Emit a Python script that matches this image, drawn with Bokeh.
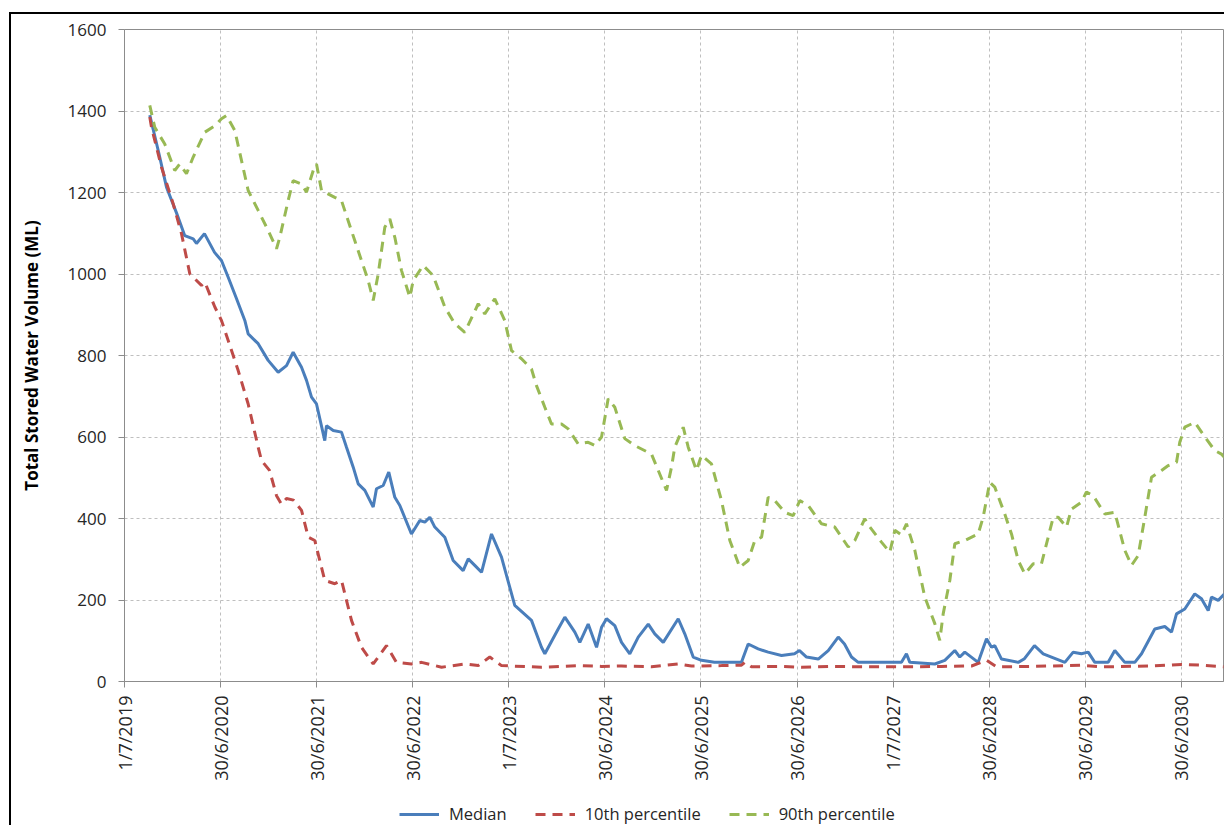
import datetime as dt
import math
from bokeh.plotting import figure
from bokeh.layouts import column
from bokeh.models import FixedTicker, SingleIntervalTicker, Range1d, Legend, LegendItem
from bokeh.embed import file_html
from bokeh.resources import INLINE

# ---------------- data (time as decimal year, volume in ML) ----------------
median_year = [2019.763, 2019.854, 2019.937, 2020.041, 2020.127, 2020.215, 2020.249, 2020.332, 2020.437, 2020.509,
               2020.579, 2020.665, 2020.752, 2020.787, 2020.891, 2020.995, 2021.099, 2021.186, 2021.255, 2021.342,
               2021.394, 2021.446, 2021.498, 2021.584, 2021.602, 2021.672, 2021.758, 2021.810, 2021.880, 2021.932,
               2022.001, 2022.088, 2022.122, 2022.192, 2022.250, 2022.313, 2022.365, 2022.486, 2022.573, 2022.625,
               2022.677, 2022.729, 2022.833, 2022.920, 2023.024, 2023.077, 2023.145, 2023.215, 2023.319, 2023.423,
               2023.561, 2023.735, 2023.839, 2023.874, 2024.013, 2024.082, 2024.186, 2024.238, 2024.325, 2024.412,
               2024.464, 2024.516, 2024.602, 2024.672, 2024.758, 2024.846, 2024.950, 2025.018, 2025.106, 2025.262,
               2025.330, 2025.418, 2025.504, 2025.639, 2025.920, 2025.990, 2026.094, 2026.198, 2026.337, 2026.472,
               2026.524, 2026.597, 2026.719, 2026.823, 2026.927, 2026.992, 2027.065, 2027.135, 2027.273, 2027.585,
               2027.637, 2027.672, 2027.932, 2028.036, 2028.140, 2028.192, 2028.244, 2028.383, 2028.470, 2028.522,
               2028.556, 2028.626, 2028.800, 2028.865, 2028.969, 2029.060, 2029.146, 2029.285, 2029.372, 2029.458,
               2029.528, 2029.597, 2029.736, 2029.805, 2029.909, 2030.013, 2030.083, 2030.221, 2030.325, 2030.395,
               2030.447, 2030.533, 2030.637, 2030.707, 2030.777, 2030.811, 2030.881, 2030.947]
median_ml = [1390, 1300, 1213, 1150, 1094, 1086, 1075, 1099, 1053, 1033,
             992, 940, 886, 853, 829, 788, 759, 775, 808, 771,
             739, 698, 681, 591, 628, 616, 612, 575, 526, 485,
             469, 428, 473, 481, 514, 452, 432, 362, 395, 391,
             403, 379, 354, 297, 272, 301, 285, 268, 362, 305,
             187, 150, 84, 68, 129, 158, 121, 96, 141, 84,
             133, 154, 137, 96, 68, 109, 141, 117, 96, 154,
             117, 60, 52, 47, 47, 92, 80, 72, 64, 68,
             76, 60, 55, 76, 109, 92, 60, 47, 47, 47,
             68, 47, 43, 52, 76, 60, 72, 47, 105, 84,
             88, 55, 47, 56, 88, 68, 60, 47, 72, 68,
             72, 47, 47, 76, 47, 47, 68, 129, 135, 121,
             166, 178, 215, 203, 174, 207, 199, 215]

p10_year = [2019.763, 2019.781, 2019.885, 2020.007, 2020.093, 2020.180, 2020.301, 2020.336, 2020.440, 2020.509,
            2020.579, 2020.683, 2020.787, 2020.891, 2020.926, 2021.009, 2021.082, 2021.134, 2021.186, 2021.259,
            2021.342, 2021.412, 2021.480, 2021.584, 2021.688, 2021.758, 2021.862, 2021.966, 2022.088, 2022.226,
            2022.330, 2022.486, 2022.591, 2022.799, 2023.041, 2023.181, 2023.301, 2023.423, 2023.839, 2024.047,
            2024.255, 2024.464, 2024.672, 2024.984, 2025.262, 2025.400, 2025.712, 2025.920, 2025.955, 2026.024,
            2026.337, 2026.545, 2026.857, 2027.169, 2027.585, 2028.002, 2028.314, 2028.470, 2028.574, 2028.938,
            2029.458, 2029.667, 2030.187, 2030.499, 2030.707, 2030.947]
p10_ml = [1385, 1360, 1262, 1172, 1099, 1000, 972, 980, 919, 886,
          837, 763, 681, 575, 542, 518, 456, 435, 449, 445,
          420, 354, 346, 248, 240, 248, 150, 84, 43, 88,
          47, 43, 47, 35, 43, 39, 60, 39, 35, 37,
          39, 37, 38, 36, 43, 38, 39, 40, 47, 36,
          37, 35, 37, 36, 36, 37, 38, 52, 36, 37,
          40, 36, 38, 42, 40, 36]

p90_year = [2019.763, 2019.815, 2019.919, 2020.023, 2020.075, 2020.145, 2020.215, 2020.336, 2020.440, 2020.509,
            2020.561, 2020.648, 2020.787, 2020.891, 2020.995, 2021.082, 2021.116, 2021.203, 2021.255, 2021.342,
            2021.394, 2021.464, 2021.498, 2021.550, 2021.688, 2021.758, 2021.896, 2022.036, 2022.088, 2022.140,
            2022.209, 2022.261, 2022.313, 2022.382, 2022.469, 2022.504, 2022.608, 2022.712, 2022.833, 2022.937,
            2023.041, 2023.181, 2023.249, 2023.353, 2023.457, 2023.527, 2023.631, 2023.735, 2023.787, 2023.874,
            2023.943, 2024.047, 2024.117, 2024.221, 2024.325, 2024.394, 2024.464, 2024.533, 2024.602, 2024.706,
            2024.810, 2024.984, 2025.054, 2025.140, 2025.192, 2025.226, 2025.314, 2025.366, 2025.452, 2025.504,
            2025.608, 2025.712, 2025.799, 2025.903, 2025.990, 2026.059, 2026.129, 2026.198, 2026.267, 2026.371,
            2026.458, 2026.527, 2026.614, 2026.753, 2026.891, 2027.031, 2027.099, 2027.203, 2027.256, 2027.377,
            2027.464, 2027.516, 2027.585, 2027.637, 2027.724, 2027.828, 2027.932, 2027.984, 2028.019, 2028.088,
            2028.140, 2028.244, 2028.383, 2028.435, 2028.504, 2028.556, 2028.660, 2028.730, 2028.800, 2028.868,
            2028.956, 2029.042, 2029.164, 2029.216, 2029.302, 2029.354, 2029.458, 2029.510, 2029.580, 2029.701,
            2029.805, 2029.909, 2029.979, 2030.048, 2030.117, 2030.187, 2030.291, 2030.361, 2030.447, 2030.481,
            2030.533, 2030.637, 2030.742, 2030.845, 2030.915, 2030.947]
p90_ml = [1414, 1360, 1319, 1254, 1270, 1246, 1287, 1348, 1364, 1381,
          1389, 1352, 1205, 1156, 1107, 1062, 1090, 1180, 1229, 1221,
          1201, 1254, 1270, 1205, 1188, 1180, 1082, 984, 935, 1000,
          1115, 1135, 1090, 1009, 943, 984, 1021, 996, 919, 878,
          857, 927, 902, 939, 886, 812, 792, 767, 726, 673,
          632, 632, 620, 583, 587, 579, 600, 694, 673, 596,
          579, 558, 518, 469, 526, 575, 624, 575, 518, 555,
          534, 444, 346, 280, 297, 346, 354, 452, 444, 415,
          407, 444, 432, 387, 379, 330, 346, 399, 379, 342,
          317, 371, 360, 387, 322, 207, 142, 101, 166, 248,
          338, 346, 362, 403, 489, 477, 411, 362, 297, 264,
          289, 289, 403, 403, 379, 423, 440, 465, 456, 411,
          415, 322, 285, 309, 403, 501, 518, 530, 538, 587,
          624, 636, 600, 567, 558, 550]

tick_dates = ["2019-07-01", "2020-06-30", "2021-06-30", "2022-06-30", "2023-07-01", "2024-06-30",
              "2025-06-30", "2026-06-30", "2027-07-01", "2028-06-30", "2029-06-30", "2030-06-30"]
tick_labels = ["1/7/2019", "30/6/2020", "30/6/2021", "30/6/2022", "1/7/2023", "30/6/2024",
               "30/6/2025", "30/6/2026", "1/7/2027", "30/6/2028", "30/6/2029", "30/6/2030"]

series_names = ["Median", "10th percentile", "90th percentile"]
series_colors = ["#4A7EBB", "#BE4B48", "#98B954"]
series_dash = ["solid", "10 7", "10 7"]

# ---------------- helpers ----------------
BASE = dt.date(2019, 7, 1)


def year_to_days(y):
    return (y - 2019.5) * 365.25


def date_to_days(s):
    return (dt.date.fromisoformat(s) - BASE).days


x_end = year_to_days(2030.936)
tick_days = [date_to_days(s) for s in tick_dates]

FONT = "Open Sans"
TXT = "#262626"

# ---------------- main chart ----------------
p = figure(frame_width=1099, frame_height=652,
           min_border_left=113, min_border_right=1, min_border_top=15, min_border_bottom=122,
           x_range=Range1d(0, x_end), y_range=Range1d(0, 1600),
           output_backend="svg", toolbar_location=None, tools="")
p.background_fill_color = "white"
p.border_fill_color = "white"
p.outline_line_color = "#8C8C8C"
p.outline_line_width = 1

xa = p.xaxis[0]
xa.ticker = FixedTicker(ticks=tick_days)
xa.major_label_overrides = {d: lab for d, lab in zip(tick_days, tick_labels)}
xa.major_label_orientation = math.pi / 2
xa.major_label_text_font = FONT
xa.major_label_text_font_size = "18px"
xa.major_label_text_color = TXT
xa.major_label_standoff = 8
xa.axis_line_color = "#8C8C8C"
xa.major_tick_line_color = "#8C8C8C"
xa.major_tick_in = 0
xa.major_tick_out = 6
xa.minor_tick_line_color = None

ya = p.yaxis[0]
ya.ticker = SingleIntervalTicker(interval=200, num_minor_ticks=0)
ya.major_label_text_font = FONT
ya.major_label_text_font_size = "17px"
ya.major_label_text_color = TXT
ya.major_label_standoff = 12
ya.axis_line_color = "#8C8C8C"
ya.major_tick_line_color = "#8C8C8C"
ya.major_tick_in = 0
ya.major_tick_out = 6
ya.minor_tick_line_color = None
ya.axis_label = "Total Stored Water Volume (ML)"
ya.axis_label_text_font = FONT
ya.axis_label_text_font_style = "bold"
ya.axis_label_text_font_size = "17px"
ya.axis_label_text_color = "#000000"
ya.axis_label_standoff = 22

for g in (p.xgrid[0], p.ygrid[0]):
    g.grid_line_color = "#BFBFBF"
    g.grid_line_dash = "3 3"
    g.grid_line_width = 1

series = [(median_year, median_ml), (p10_year, p10_ml), (p90_year, p90_ml)]
for (yrs, vals), col, dash in zip(series, series_colors, series_dash):
    p.line([year_to_days(v) for v in yrs], vals, line_color=col, line_width=3, line_dash=dash)

# ---------------- legend strip (same series, y range set above the data so only the legend shows) ----------------
lf = figure(width=1213, height=22, min_border=0, x_axis_type=None, y_axis_type=None,
            x_range=Range1d(0, x_end), y_range=Range1d(5000, 6000),
            output_backend="svg", toolbar_location=None, tools="")
lf.outline_line_color = None
lf.background_fill_color = "white"
lf.border_fill_color = "white"
lf.grid.visible = False
items = []
for (yrs, vals), name, col, dash in zip(series, series_names, series_colors, series_dash):
    r = lf.line([year_to_days(v) for v in yrs], vals, line_color=col, line_width=3, line_dash=dash)
    items.append(LegendItem(label=name, renderers=[r]))

legend = Legend(items=items, orientation="horizontal", location=(275, 0),
                glyph_width=40, glyph_height=18, label_standoff=10, spacing=28,
                padding=0, margin=0,
                label_text_font=FONT, label_text_font_size="16.5px", label_text_color=TXT,
                background_fill_alpha=0, border_line_color=None)
lf.add_layout(legend, "center")

layout = column(p, lf, spacing=0,
                styles={"border-left": "2px solid #000000", "border-top": "2px solid #000000",
                        "margin-left": "9px", "margin-top": "12px"})

open("out.html", "w").write(file_html(layout, INLINE))
